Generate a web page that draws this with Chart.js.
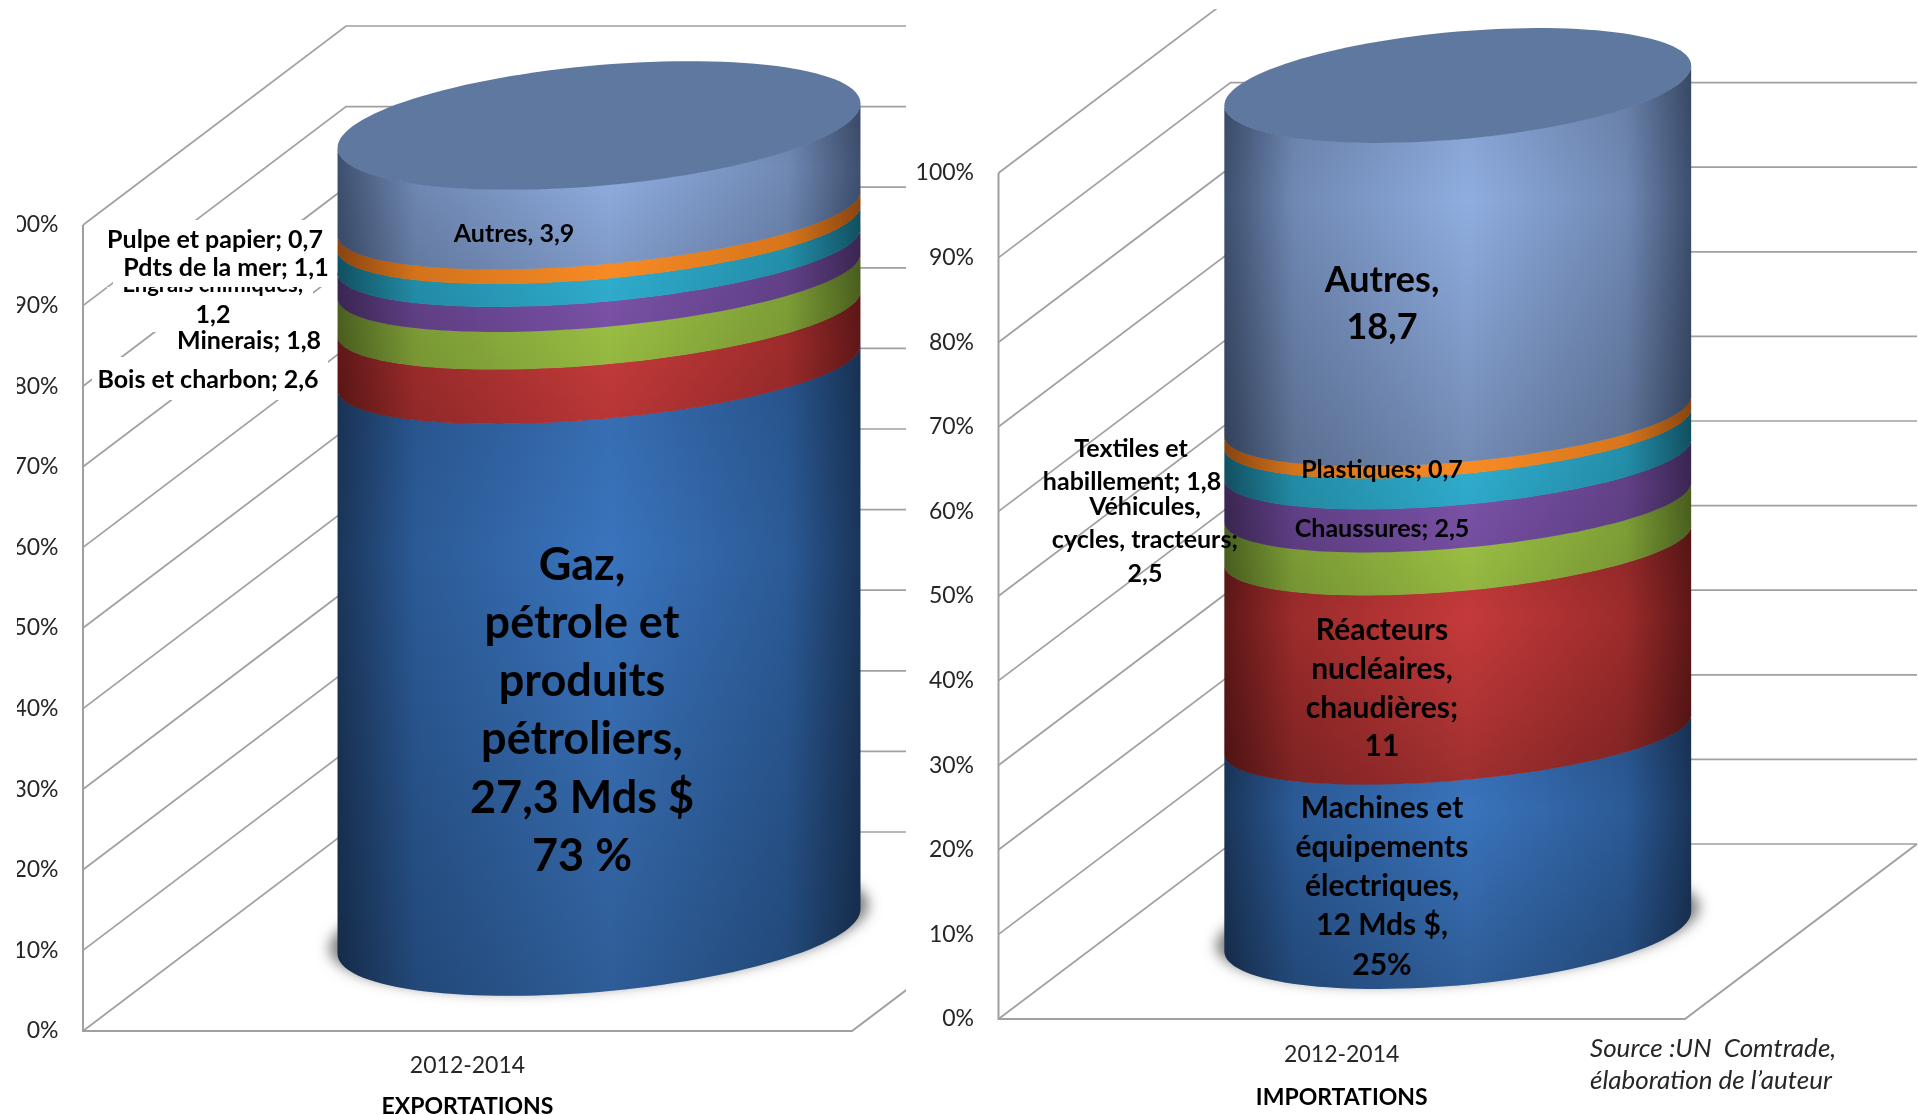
<!DOCTYPE html>
<html lang="fr">
<head>
<meta charset="utf-8">
<title>Exportations et importations 2012-2014</title>
<script src="https://cdn.jsdelivr.net/npm/chart.js@4/dist/chart.umd.min.js"></script>
<style>
  html, body { margin: 0; background: #fff; overflow: hidden; }
  .box { position: absolute; }
</style>
</head>
<body>
<div class="box" style="left:17px;top:0;width:889px;height:1115px"><canvas id="exportChart"></canvas></div>
<div class="box" style="left:906px;top:9px;width:1013px;height:1106px"><canvas id="importChart"></canvas></div>
<script>
const period = ['2012-2014'];
const percentTicks = [0, 10, 20, 30, 40, 50, 60, 70, 80, 90, 100];

// Mds $, du bas vers le haut de la colonne
const exportCategories = ['Gaz, pétrole et produits pétroliers', 'Bois et charbon', 'Minerais', 'Engrais chimiques', 'Pdts de la mer', 'Pulpe et papier', 'Autres'];
const exportValues = [27.3, 2.6, 1.8, 1.2, 1.1, 0.7, 3.9];

const importCategories = ['Machines et équipements électriques', 'Réacteurs nucléaires, chaudières', 'Véhicules, cycles, tracteurs', 'Chaussures', 'Textiles et habillement', 'Plastiques', 'Autres'];
const importValues = [12, 11, 2.5, 2.5, 1.8, 0.7, 18.7];

// bord, intermédiaire, centre
const bandColors = [
  ['#1a3559', '#2b5a96', '#3a74bd'],
  ['#5e1717', '#9c2b2b', '#c53a3a'],
  ['#4a5f1f', '#7d9d36', '#9cc044'],
  ['#3a2652', '#614087', '#7b52a8'],
  ['#115061', '#238ea9', '#30aed0'],
  ['#8a4410', '#d6751b', '#fb8c25'],
  ['#3d4f6e', '#7089b4', '#8fade0']
];
const capColor = '#5f789f';
const wallColor = '#a0a0a0';
const textColor = '#000';
const axisTextColor = '#262626';
const fontFamily = 'Lato, "Open Sans", sans-serif';

// texte, x, y (page), taille
const exportLabels = [
  ['Autres, 3,9', 514, 234, 25],
  ['Gaz,', 582, 565, 45],
  ['pétrole et', 582, 623, 45],
  ['produits', 582, 681, 45],
  ['pétroliers,', 582, 739, 45],
  ['27,3 Mds $', 582, 798, 45],
  ['73 %', 582, 856, 45],
  ['Pulpe et papier; 0,7', 215, 240, 25],
  ['Pdts de la mer; 1,1', 226, 268, 25],
  ['1,2', 213, 315, 25],
  ['Minerais; 1,8', 249, 341, 25],
  ['Bois et charbon; 2,6', 208, 380, 25]
];
const importLabels = [
  ['Autres,', 1382, 280, 36],
  ['18,7', 1382, 327, 36],
  ['Plastiques; 0,7', 1382, 470, 25],
  ['Chaussures; 2,5', 1382, 529, 25],
  ['Réacteurs', 1382, 630, 30],
  ['nucléaires,', 1382, 669, 30],
  ['chaudières;', 1382, 708, 30],
  ['11', 1382, 746, 30],
  ['Machines et', 1382, 808, 30],
  ['équipements', 1382, 847, 30],
  ['électriques,', 1382, 886, 30],
  ['12 Mds $,', 1382, 925, 30],
  ['25%', 1382, 965, 30],
  ['Textiles et', 1131, 449, 25],
  ['habillement; 1,8', 1132, 482, 25],
  ['Véhicules,', 1145, 507, 25],
  ['cycles, tracteurs;', 1145, 540, 25],
  ['2,5', 1145, 574, 25]
];
const sourceLines = [['Source :UN  Comtrade,', 1590, 1049], ['élaboration de l’auteur', 1590, 1081]];

// ligne du label "Engrais chimiques;" à moitié cachée par le cadre blanc du dessus
const hiddenLabel = ['Engrais chimiques;', 213, 285, 22];
const backBoxes = [[107, 287, 206, 45], [177, 332, 150, 25], [92, 357, 236, 43]];
const frontBoxes = [[103, 220, 234, 37], [113, 253, 224, 34]];

function arcPoints(c, y, k, reverse) {
  const pts = [];
  for (let i = 0; i <= 64; i++) {
    const t = Math.PI * (reverse ? i : 64 - i) / 64;
    pts.push([c.cx + c.a * Math.cos(t), y - 0.085 * c.a * Math.cos(t) + k * 0.231 * c.a * Math.sin(t)]);
  }
  return pts;
}

function bandGradient(ctx, c, colors) {
  const g = ctx.createLinearGradient(c.cx - c.a, 0, c.cx + c.a, 0);
  g.addColorStop(0, colors[0]);
  g.addColorStop(0.15, colors[1]);
  g.addColorStop(0.52, colors[2]);
  g.addColorStop(0.86, colors[1]);
  g.addColorStop(1, colors[0]);
  return g;
}

function drawBand(ctx, c, yBottom, kBottom, yTop, kTop, colors) {
  const pts = arcPoints(c, yBottom, kBottom, false).concat(arcPoints(c, yTop, kTop, true));
  ctx.beginPath();
  pts.forEach((p, i) => i ? ctx.lineTo(p[0], p[1]) : ctx.moveTo(p[0], p[1]));
  ctx.closePath();
  ctx.fillStyle = bandGradient(ctx, c, colors);
  ctx.fill();

  const h = yBottom - yTop;
  const tall = Math.min(1, h / 150);
  const shade = ctx.createLinearGradient(0, yTop, 0, yBottom + c.a * 0.22);
  shade.addColorStop(0, 'rgba(0,0,0,' + 0.08 * tall + ')');
  shade.addColorStop(0.3, 'rgba(0,0,0,0)');
  shade.addColorStop(1, 'rgba(0,0,0,' + 0.2 * tall + ')');
  ctx.fillStyle = shade;
  ctx.fill();
}

function putText(ctx, item, ox, oy, font) {
  ctx.font = font || ('bold ' + item[3] + 'px ' + fontFamily);
  ctx.fillText(item[0], item[1] - ox, item[2] - oy);
}

const cylinderPlugin = {
  id: 'cylinder',
  beforeDatasetsDraw(chart, args, opts) {
    const ctx = chart.ctx;
    const y = chart.scales.y;
    const area = chart.chartArea;
    ctx.save();
    ctx.strokeStyle = wallColor;
    ctx.lineWidth = 1.7;
    percentTicks.forEach(v => {
      const py = y.getPixelForValue(v);
      ctx.beginPath();
      ctx.moveTo(area.left, py);
      ctx.lineTo(area.left + opts.dx, py - opts.dy);
      ctx.lineTo(area.right + opts.dx, py - opts.dy);
      ctx.stroke();
    });
    ctx.lineWidth = 2;
    ctx.beginPath();
    ctx.moveTo(area.left, area.top);
    ctx.lineTo(area.left, area.bottom);
    ctx.lineTo(area.right, area.bottom);
    ctx.lineTo(area.right + opts.dx, area.bottom - opts.dy);
    ctx.stroke();
    ctx.fillStyle = '#fff';
    (opts.boxes || []).forEach(b => ctx.fillRect(b[0] - opts.ox, b[1] - opts.oy, b[2], b[3]));
    ctx.restore();
  },
  afterDatasetsDraw(chart, args, opts) {
    const ctx = chart.ctx;
    const count = chart.data.datasets.length;
    const first = chart.getDatasetMeta(0).data[0];
    const last = chart.getDatasetMeta(count - 1).data[0];
    const c = { cx: first.x + opts.dx / 2, a: first.width / 2 };
    const lift = opts.dy / 2;

    // ombre au pied de la colonne (seule l'ombre est visible)
    const baseY = first.base - lift;
    ctx.save();
    ctx.shadowColor = 'rgba(70,70,70,0.7)';
    ctx.shadowBlur = 13;
    ctx.shadowOffsetX = 5000;
    ctx.fillStyle = '#000';
    ctx.beginPath();
    ctx.ellipse(c.cx - 5000, baseY - 5, c.a + 9, c.a * 0.235, -0.085, 0, Math.PI * 2);
    ctx.fill();
    ctx.restore();

    for (let i = 0; i < count; i++) {
      const bar = chart.getDatasetMeta(i).data[0];
      const yBottom = bar.base - lift + (i === 0 ? 0 : opts.drop);
      const yTop = bar.y - lift - 0.5 + (i === count - 1 ? 0 : opts.drop);
      drawBand(ctx, c, yBottom, i === 0 ? 1 : 0.85, yTop, i === count - 1 ? 1 : 0.85, bandColors[i]);
    }

    // dessus
    const topY = last.y - lift;
    const front = arcPoints(c, topY, 1, true);
    const back = arcPoints(c, topY, -1, false);
    ctx.beginPath();
    front.concat(back).forEach((p, i) => i ? ctx.lineTo(p[0], p[1]) : ctx.moveTo(p[0], p[1]));
    ctx.closePath();
    ctx.fillStyle = capColor;
    ctx.fill();
  },
  afterDraw(chart, args, opts) {
    const ctx = chart.ctx;
    ctx.save();
    ctx.fillStyle = textColor;
    ctx.textAlign = 'center';
    ctx.textBaseline = 'middle';
    if (opts.hidden) putText(ctx, opts.hidden, opts.ox, opts.oy);
    ctx.fillStyle = '#fff';
    (opts.frontBoxes || []).forEach(b => ctx.fillRect(b[0] - opts.ox, b[1] - opts.oy, b[2], b[3]));
    ctx.fillStyle = textColor;
    opts.labels.forEach(l => putText(ctx, l, opts.ox, opts.oy));
    if (opts.source) {
      ctx.textAlign = 'left';
      ctx.fillStyle = axisTextColor;
      opts.source.forEach(s => putText(ctx, s, opts.ox, opts.oy, 'italic 26px ' + fontFamily));
    }
    ctx.restore();
  }
};

function buildChart(id, categories, values, title, s) {
  const total = values.reduce((a, b) => a + b, 0);
  return new Chart(document.getElementById(id), {
    type: 'bar',
    data: {
      labels: period,
      datasets: categories.map((name, i) => ({
        label: name,
        data: [values[i] / total * 100],
        backgroundColor: 'transparent',
        stack: 's'
      }))
    },
    options: {
      responsive: true,
      maintainAspectRatio: false,
      animation: false,
      events: [],
      categoryPercentage: 0.68,
      barPercentage: 1,
      layout: { padding: { top: s.top, right: s.right, bottom: s.bottom, left: 0 } },
      plugins: {
        legend: { display: false },
        tooltip: { enabled: false },
        cylinder: s
      },
      scales: {
        x: {
          stacked: true,
          grid: { display: false },
          border: { display: false },
          ticks: { padding: s.tickPad, color: axisTextColor, font: { family: fontFamily, size: 23 } },
          title: { display: true, text: title, color: textColor, font: { family: fontFamily, size: 23, weight: 'bold' }, padding: { top: 0, bottom: s.titlePad } },
          afterFit(scale) {
            scale.height = s.xHeight;
            scale.paddingLeft = 0;
            scale.paddingRight = 0;
          }
        },
        y: {
          stacked: true,
          min: 0,
          max: 100,
          grid: { display: false },
          border: { display: false },
          ticks: {
            stepSize: 10,
            padding: 16.5,
            color: axisTextColor,
            font: { family: fontFamily, size: 23 },
            callback: v => v + '%'
          },
          afterFit(scale) {
            scale.width = s.axisX;
            scale.paddingTop = 0;
            scale.paddingBottom = 0;
          }
        }
      }
    },
    plugins: [cylinderPlugin]
  });
}

buildChart('exportChart', exportCategories, exportValues, 'EXPORTATIONS', {
  ox: 17, oy: 0, dx: 263, dy: 199, drop: 6.5,
  axisX: 66, top: 225, right: 54, bottom: 0, xHeight: 84, tickPad: 13, titlePad: -5,
  labels: exportLabels, hidden: hiddenLabel, boxes: backBoxes, frontBoxes: frontBoxes
});

buildChart('importChart', importCategories, importValues, 'IMPORTATIONS', {
  ox: 906, oy: 9, dx: 232, dy: 175, drop: 9.5,
  axisX: 92.5, top: 164, right: 234, bottom: 3.5, xHeight: 92.5, tickPad: 14, titlePad: 0,
  labels: importLabels, source: sourceLines
});
</script>
</body>
</html>
